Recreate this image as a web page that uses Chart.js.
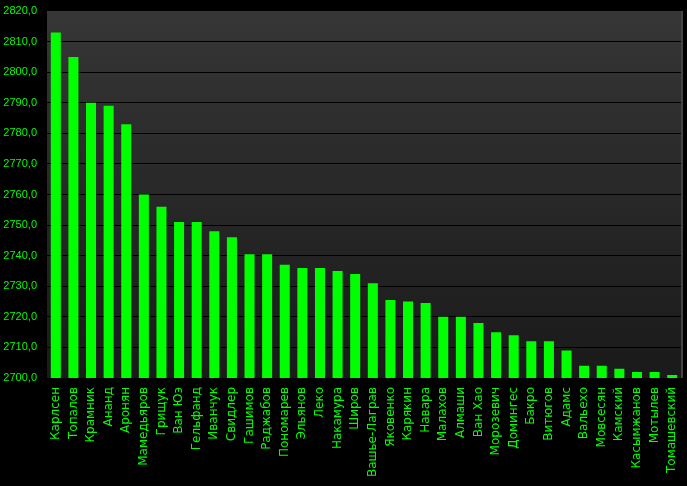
<!DOCTYPE html>
<html>
<head>
<meta charset="utf-8">
<script src="https://cdn.jsdelivr.net/npm/chart.js@4"></script>
<style>
html,body{margin:0;padding:0;background:#000;}
#wrap{width:687px;height:486px;}
</style>
</head>
<body>
<div id="wrap"><canvas id="c" width="687" height="486"></canvas></div>
<script>
const players = ["Карлсен","Топалов","Крамник","Ананд","Аронян","Мамедьяров","Грищук","Ван Юэ","Гельфанд","Иванчук","Свидлер","Гашимов","Раджабов","Пономарев","Эльянов","Леко","Накамура","Широв","Вашье-Лаграв","Яковенко","Карякин","Навара","Малахов","Алмаши","Ван Хао","Морозевич","Домингес","Бакро","Витюгов","Адамс","Вальехо","Мовсесян","Камский","Касымжанов","Мотылев","Томашевский"];
const ratings = [2813,2805,2790,2789,2783,2760,2756,2751,2751,2748,2746,2740.5,2740.5,2737,2736,2736,2735,2734,2731,2725.5,2725,2724.5,2720,2720,2718,2715,2714,2712,2712,2709,2704,2704,2703,2702,2702,2701];
const yMin = 2700, yMax = 2820, yStep = 10;

const bgPlugin = {
  id: 'bg',
  beforeDraw(chart) {
    const {ctx, chartArea: a} = chart;
    ctx.save();
    ctx.fillStyle = '#000';
    ctx.fillRect(0, 0, chart.width, chart.height);
    const g = ctx.createLinearGradient(0, a.top, 0, a.bottom);
    g.addColorStop(0, '#363636');
    g.addColorStop(1, '#1a1a1a');
    ctx.fillStyle = g;
    ctx.fillRect(a.left, a.top, a.right - a.left, a.bottom - a.top);
    ctx.fillStyle = '#444';
    ctx.fillRect(a.right, a.top, 2, a.bottom - a.top);
    ctx.restore();
  }
};

new Chart(document.getElementById('c'), {
  type: 'bar',
  data: {
    labels: players,
    datasets: [{
      data: ratings,
      backgroundColor: '#00ff00',
      borderWidth: 0,
      barPercentage: 0.57,
      categoryPercentage: 1.0
    }]
  },
  options: {
    responsive: false,
    animation: false,
    layout: {padding: {top: 11, right: 6, left: 0, bottom: 0}},
    plugins: {legend: {display: false}, tooltip: {enabled: false}},
    scales: {
      x: {
        grid: {display: false, drawTicks: false},
        border: {display: false},
        ticks: {
          color: '#00ff00',
          font: {family: 'DejaVu Sans', size: 12},
          minRotation: 90, maxRotation: 90,
          autoSkip: false,
          padding: 9
        },
        afterFit(s) { s.height = 486 - 378; s.paddingLeft = 0; s.paddingRight = 0; }
      },
      y: {
        min: yMin, max: yMax,
        grid: {color: (c) => c.tick && c.tick.value === yMax ? 'rgba(0,0,0,0)' : '#000', lineWidth: 1, drawTicks: false},
        border: {display: false},
        ticks: {
          stepSize: yStep,
          color: '#00ff00',
          font: {family: 'Liberation Sans', size: 11},
          padding: 10,
          callback: v => v.toFixed(1).replace('.', ',')
        },
        afterFit(s) { s.width = 47; s.paddingTop = 0; s.paddingBottom = 0; }
      }
    }
  },
  plugins: [bgPlugin]
});
</script>
</body>
</html>
